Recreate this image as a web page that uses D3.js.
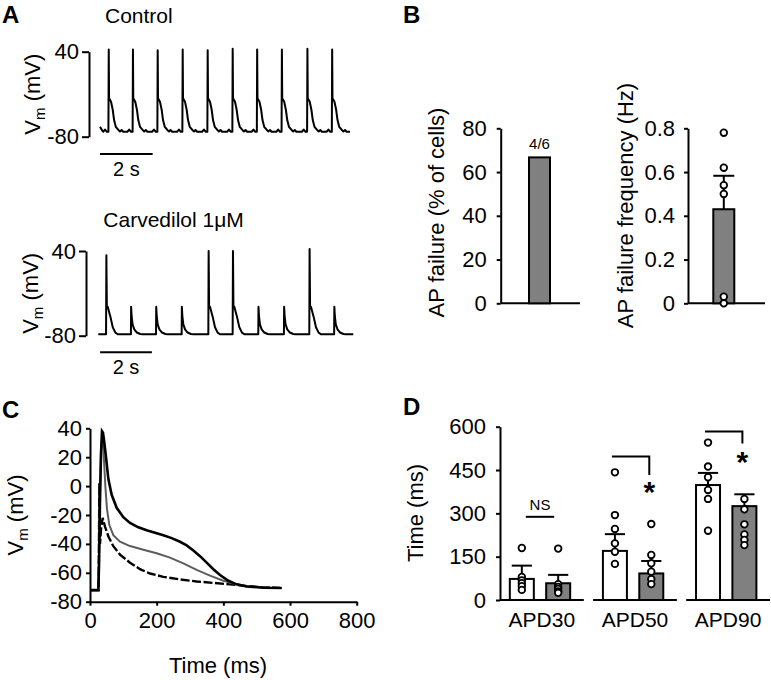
<!DOCTYPE html>
<html><head><meta charset="utf-8">
<script src="https://cdn.jsdelivr.net/npm/d3@7"></script>
<style>
body{margin:0;background:#fff}
svg{display:block}
</style></head><body>
<svg id="fig" width="771" height="680"></svg>
<script>
// ================= DATA =================
// Panel A – spike trains (time in s, Vm in mV)
const ctrlSpikeTimes = [0.32,1.24,2.18,3.13,4.08,5.03,5.96,6.90,7.87,8.81];
const ctrlPeaks      = [43,43,42,43,42,44,43,43,44,43];
const ctrlApShape    = [[-0.2,-73],[-0.13,-70],[-0.06,-73],[0,-73],[0.012,"peak"],[0.025,-25.8],[0.10,-30.6],[0.165,-42.3],[0.215,-56.5],[0.28,-66],[0.38,-70.5],[0.44,-72.5],[0.5,-70.5],[0.56,-73]];
const ctrlLead       = [[0,-66],[0.08,-71]];
const ctrlEnd        = [9.5,-73];

const carvSpikeTimes = [0.30,1.26,2.23,3.22,4.25,5.19,6.18,7.17,8.15,9.11];
const carvSpikeKind  = ["full","fail","fail","fail","full","full","fail","fail","full","fail"];
const carvPeaks      = [34,-39,-39,-39,40,40,-39,-39,43,-39];
const carvFullShape  = [[-0.02,-78],[0,-78],[0.012,"peak"],[0.03,-38],[0.064,-39],[0.167,-53],[0.258,-68],[0.36,-75.7],[0.45,-78]];
const carvFailShape  = [[-0.02,-78],[0,-78],[0.008,"peak"],[0.026,-52],[0.064,-64],[0.13,-71],[0.23,-75.5],[0.36,-77.6],[0.45,-78]];
const carvLead       = [[0,-78]];
const carvEnd        = [9.85,-78];
const scaleBarSec    = 2;

// Panel B
const failCellsPct   = 66.7;
const failCellsLabel = "4/6";
const failFreqMean   = 0.43;
const failFreqSem    = 0.153;
const failFreqPoints = [0.78,0.62,0.54,0.50,0.03,0];

// Panel C – averaged APs (ms, mV)
const apControl = [[0,-72],[25,-72],[27,-55],[30,-10],[33,22],[36,38],[39,37],[43,30],[48,20],[55,5],[65,-6],[80,-15],[100,-21.5],[120,-25.5],[145,-28.5],[170,-30.5],[195,-32.3],[220,-34],[245,-36],[270,-38.5],[290,-41],[310,-44.5],[330,-48.5],[350,-53],[370,-57.5],[390,-61.5],[415,-65.5],[440,-68],[470,-69.5],[520,-70.3],[575,-70.5]];
const apGray    = [[0,-72],[25,-72],[27,-50],[30,-5],[33,25],[36,33],[39,30],[42,18],[46,0],[51,-16],[58,-27],[70,-34],[90,-38.5],[120,-41.5],[160,-44],[200,-46.5],[240,-49.5],[280,-53.5],[320,-58],[360,-62],[400,-65.5],[440,-68],[480,-69.5],[530,-70.3],[575,-70.5]];
const apDashed  = [[0,-72],[26,-72],[28,2],[30,-40],[33,-30],[38,-22],[45,-28],[55,-34.7],[70,-41.6],[90,-47.4],[120,-53],[150,-57.5],[180,-60.5],[220,-62.8],[270,-64.6],[320,-66],[370,-67],[420,-68],[470,-69.2],[520,-70],[570,-70.4]];
const cXTicks = [0,200,400,600,800];
const cYTicks = [-80,-60,-40,-20,0,20,40];

// Panel D – APD (ms)
const apdGroups      = ["APD30","APD50","APD90"];
const apdCtrlMean    = [73,170,398];
const apdCtrlSem     = [46,58,42];
const apdCarvMean    = [58,92,325];
const apdCarvSem     = [29,43,41];
const apdCtrlPoints  = [[180,80,68,58,48,35],[442,294,246,196,167,125],[545,462,425,381,350,240]];
const apdCarvPoints  = [[178,55,45,38,30,25],[263,156,127,98,72,55],[350,314,262,227,208,190]];
const apdSigLabel    = ["NS","*","*"];
const apdBracketTop  = [288,497,583];
const apdBracketDrop = [null,433,542];
const apdStarLevel   = [null,398,502];
const dYTicks = [0,150,300,450,600];

// ================= DRAW =================
const FONT = '"Liberation Sans", Arial, Helvetica, sans-serif';
const svg = d3.select("#fig").attr("font-family", FONT);
const GRAY = "#808080";

function styleAxis(g, fs){
  g.attr("font-size", null).attr("font-family", null);
  g.selectAll("path,line").attr("stroke","#000").attr("stroke-width",2);
  g.selectAll("text").attr("font-size", fs||22).attr("fill","#000");
}
function txt(x,y,s,opts={}){
  const t = svg.append("text").attr("x",x).attr("y",y).text(s)
    .attr("font-size",opts.size||22).attr("fill","#000");
  if(opts.anchor) t.attr("text-anchor",opts.anchor);
  if(opts.bold) t.attr("font-weight","bold");
  return t;
}
function vmLabel(x,y){
  const t = svg.append("text").attr("transform",`translate(${x},${y}) rotate(-90)`)
    .attr("text-anchor","middle").attr("font-size",22);
  t.append("tspan").text("V");
  t.append("tspan").text("m").attr("font-size",15).attr("dy",5);
  t.append("tspan").text(" (mV)").attr("dy",-5);
}
function rotLabel(x,y,s){
  svg.append("text").attr("transform",`translate(${x},${y}) rotate(-90)`)
    .attr("text-anchor","middle").attr("font-size",22).text(s);
}

// panel letters
txt(2,23,"A",{bold:true,size:24});
txt(403,23,"B",{bold:true,size:24});
txt(2,418,"C",{bold:true,size:24});
txt(403,415,"D",{bold:true,size:24});

// ---------- Panel A ----------
function buildTrace(lead, times, peaks, shapes, end){
  const pts = lead.slice();
  times.forEach((t,i)=>{
    shapes[i].forEach(([dt,v])=>pts.push([t+dt, v==="peak"?peaks[i]:v]));
  });
  pts.push(end);
  return pts;
}
function drawTrain(cfg){
  const x = d3.scaleLinear([0,cfg.end[0]],cfg.xr);
  const y = d3.scaleLinear([-80,40],cfg.yr);
  const pts = buildTrace(cfg.lead,cfg.times,cfg.peaks,cfg.shapes,cfg.end);
  svg.append("path").datum(pts)
    .attr("d",d3.line().x(d=>x(d[0])).y(d=>y(d[1])))
    .attr("fill","none").attr("stroke","#000").attr("stroke-width",2).attr("stroke-linejoin","round");
  const ax = svg.append("g").attr("transform",`translate(${cfg.axisX},0)`)
    .call(d3.axisLeft(y).tickValues([-80,40]).tickSize(7).tickSizeOuter(0).tickPadding(3).tickFormat(d=>d<0?"-"+Math.abs(d):d));
  styleAxis(ax);
  // time scale bar
  const barY = y(-80)+cfg.barGap;
  svg.append("line").attr("x1",x(cfg.barStart)).attr("x2",x(cfg.barStart+scaleBarSec))
    .attr("y1",barY).attr("y2",barY).attr("stroke","#000").attr("stroke-width",2);
  txt((x(cfg.barStart)+x(cfg.barStart+scaleBarSec))/2, barY+22, scaleBarSec+" s",{anchor:"middle",size:20});
  txt(cfg.titleX, cfg.titleY, cfg.title,{size:21});
  vmLabel(cfg.labelX,(y(-80)+y(40))/2);
}
drawTrain({lead:ctrlLead,times:ctrlSpikeTimes,peaks:ctrlPeaks,shapes:ctrlSpikeTimes.map(()=>ctrlApShape),end:ctrlEnd,
  xr:[100,350],yr:[136.7,51.7],axisX:89,barStart:0,barGap:17.3,title:"Control",titleX:105,titleY:23.3,labelX:40});
drawTrain({lead:carvLead,times:carvSpikeTimes,peaks:carvPeaks,shapes:carvSpikeKind.map(k=>k==="full"?carvFullShape:carvFailShape),end:carvEnd,
  xr:[98.3,353.3],yr:[335.7,251],axisX:86,barStart:0.07,barGap:16.6,title:"Carvedilol 1\u03BCM",titleX:103.3,titleY:227.3,labelX:38.3});

// ---------- Panel B ----------
(function(){
  const y1 = d3.scaleLinear([0,80],[303.3,128.3]);
  const ax1 = svg.append("g").attr("transform","translate(500.7,0)")
    .call(d3.axisLeft(y1).tickValues([0,20,40,60,80]).tickSize(4).tickSizeOuter(0).tickPadding(10));
  styleAxis(ax1);
  const xb1 = d3.scaleBand(["AP failure"],[500.7,580]).paddingInner(0).paddingOuter(0.36).align(0.5);
  svg.append("line").attr("x1",500.7).attr("x2",580).attr("y1",y1(0)).attr("y2",y1(0)).attr("stroke","#000").attr("stroke-width",2);
  const bw1 = 21, cx1 = 539.5;
  svg.append("rect").attr("x",cx1-bw1/2).attr("width",bw1).attr("y",y1(failCellsPct)).attr("height",y1(0)-y1(failCellsPct))
    .attr("fill",GRAY).attr("stroke","#000").attr("stroke-width",2);
  txt(cx1, y1(failCellsPct)-8.6, failCellsLabel,{anchor:"middle",size:15});
  rotLabel(444,212.5,"AP failure (% of cells)");

  const y2 = d3.scaleLinear([0,0.8],[303.3,128.3]);
  const ax2 = svg.append("g").attr("transform","translate(688,0)")
    .call(d3.axisLeft(y2).tickValues([0,0.2,0.4,0.6,0.8]).tickSize(4).tickSizeOuter(0).tickPadding(9).tickFormat(d=>d===0?"0":d3.format(".1f")(d)));
  styleAxis(ax2);
  svg.append("line").attr("x1",688).attr("x2",765).attr("y1",y2(0)).attr("y2",y2(0)).attr("stroke","#000").attr("stroke-width",2);
  const cx2 = 723.8;
  svg.append("line").attr("x1",cx2).attr("x2",cx2).attr("y1",y2(failFreqMean)).attr("y2",y2(failFreqMean+failFreqSem)).attr("stroke","#000").attr("stroke-width",2);
  svg.append("line").attr("x1",cx2-bw1/2).attr("x2",cx2+bw1/2).attr("y1",y2(failFreqMean+failFreqSem)).attr("y2",y2(failFreqMean+failFreqSem)).attr("stroke","#000").attr("stroke-width",2);
  svg.append("rect").attr("x",cx2-bw1/2).attr("width",bw1).attr("y",y2(failFreqMean)).attr("height",y2(0)-y2(failFreqMean))
    .attr("fill",GRAY).attr("stroke","#000").attr("stroke-width",2);
  svg.selectAll(null).data(failFreqPoints).enter().append("circle")
    .attr("cx",cx2).attr("cy",d=>y2(d)).attr("r",3.3).attr("fill","#fff").attr("stroke","#000").attr("stroke-width",1.8);
  rotLabel(633,205.5,"AP failure frequency (Hz)");
})();

// ---------- Panel C ----------
(function(){
  const x = d3.scaleLinear([0,800],[90,356.7]);
  const y = d3.scaleLinear([-80,40],[601.7,428.3]);
  const line = d3.line().x(d=>x(d[0])).y(d=>y(d[1]));
  svg.append("path").datum(apDashed).attr("d",line).attr("fill","none").attr("stroke","#000")
    .attr("stroke-width",2.4).attr("stroke-dasharray","9,2.5");
  svg.append("path").datum(apGray).attr("d",line).attr("fill","none").attr("stroke","#5c5c5c").attr("stroke-width",2);
  svg.append("path").datum(apControl).attr("d",line).attr("fill","none").attr("stroke","#000").attr("stroke-width",2.6);
  const ay = svg.append("g").attr("transform",`translate(${x(0)},0)`)
    .call(d3.axisLeft(y).tickValues(cYTicks).tickSize(4).tickSizeOuter(0).tickPadding(4).tickFormat(d=>d<0?"-"+Math.abs(d):d));
  styleAxis(ay);
  const axx = svg.append("g").attr("transform",`translate(0,${y(-80)})`)
    .call(d3.axisBottom(x).tickValues(cXTicks).tickSize(4).tickSizeOuter(0).tickPadding(7));
  styleAxis(axx);
  txt((x(0)+x(800))/2-(x(800)-x(0))*0.02, 673, "Time (ms)",{anchor:"middle"});
  vmLabel(23,(y(-80)+y(40))/2);
})();

// ---------- Panel D ----------
(function(){
  const y = d3.scaleLinear([0,600],[600,426.7]);
  const xg = d3.scaleBand(apdGroups,[500,770]).paddingInner(0.1).paddingOuter(0);
  const xs = d3.scaleBand(["ctrl","carv"],[0,80]).paddingInner(0.34).paddingOuter(0.27);
  const bw = xs.bandwidth();
  const ay = svg.append("g").attr("transform","translate(500,0)")
    .call(d3.axisLeft(y).tickValues(dYTicks).tickSize(4).tickSizeOuter(0).tickPadding(10));
  styleAxis(ay);
  rotLabel(423,513,"Time (ms)");
  apdGroups.forEach((g,i)=>{
    const g0 = xg(g);
    svg.append("line").attr("x1",g0).attr("x2",g0+xg.bandwidth()).attr("y1",y(0)).attr("y2",y(0)).attr("stroke","#000").attr("stroke-width",2);
    const series = [
      {k:"ctrl",mean:apdCtrlMean[i],sem:apdCtrlSem[i],pts:apdCtrlPoints[i],fill:"#fff"},
      {k:"carv",mean:apdCarvMean[i],sem:apdCarvSem[i],pts:apdCarvPoints[i],fill:GRAY}
    ];
    series.forEach(s=>{
      const bx = g0+xs(s.k), cx = bx+bw/2;
      svg.append("line").attr("x1",cx).attr("x2",cx).attr("y1",y(s.mean)).attr("y2",y(s.mean+s.sem)).attr("stroke","#000").attr("stroke-width",2);
      svg.append("line").attr("x1",cx-bw*0.42).attr("x2",cx+bw*0.42).attr("y1",y(s.mean+s.sem)).attr("y2",y(s.mean+s.sem)).attr("stroke","#000").attr("stroke-width",2);
      svg.append("rect").attr("x",bx).attr("width",bw).attr("y",y(s.mean)).attr("height",y(0)-y(s.mean))
        .attr("fill",s.fill).attr("stroke","#000").attr("stroke-width",2);
      svg.selectAll(null).data(s.pts).enter().append("circle")
        .attr("cx",cx).attr("cy",d=>y(d)).attr("r",3.3).attr("fill","#fff").attr("stroke","#000").attr("stroke-width",1.8);
    });
    const c1 = g0+xs("ctrl")+bw/2, c2 = g0+xs("carv")+bw/2;
    if(apdBracketDrop[i]===null){
      svg.append("line").attr("x1",c1+4).attr("x2",c2-4).attr("y1",y(apdBracketTop[i])).attr("y2",y(apdBracketTop[i])).attr("stroke","#000").attr("stroke-width",2);
      txt((c1+c2)/2, y(apdBracketTop[i])-6.5, apdSigLabel[i],{anchor:"middle",size:15});
    } else {
      svg.append("path").attr("d",`M${c1-3},${y(apdBracketTop[i])}H${c2-2}V${y(apdBracketDrop[i])}`)
        .attr("fill","none").attr("stroke","#000").attr("stroke-width",2);
      txt(c2-2, y(apdStarLevel[i])+17, apdSigLabel[i],{anchor:"middle",size:30,bold:true});
    }
    txt(g0+xg.bandwidth()/2, 627, g,{anchor:"middle",size:21});
  });
})();
</script>
</body></html>
